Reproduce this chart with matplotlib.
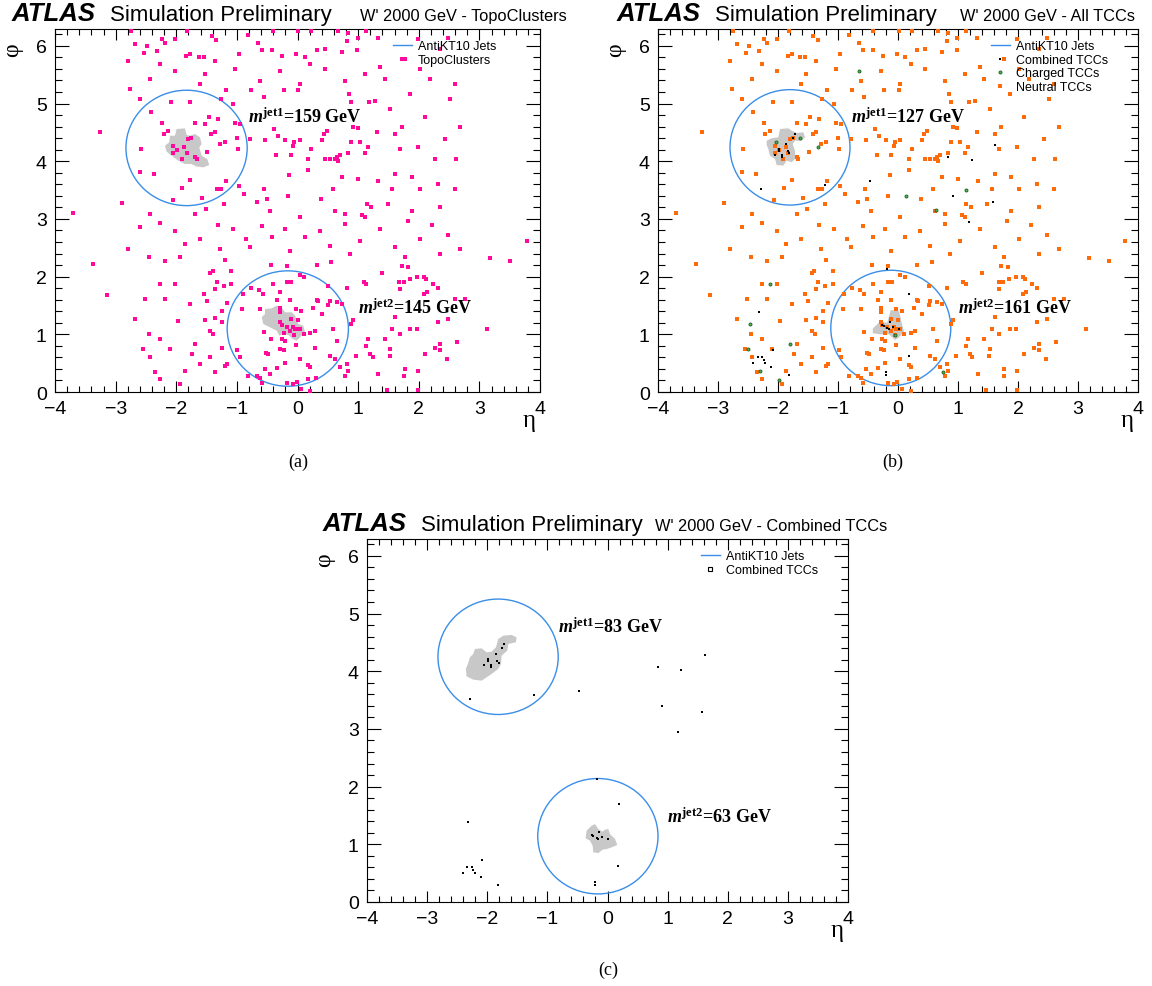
import numpy as np
import matplotlib
matplotlib.use("Agg")
import matplotlib.pyplot as plt
from matplotlib.patches import Ellipse, Polygon
from matplotlib.lines import Line2D
from matplotlib.ticker import MultipleLocator

plt.rcParams["font.family"] = ["Liberation Sans", "DejaVu Sans"]
plt.rcParams["mathtext.fontset"] = "custom"
plt.rcParams["mathtext.rm"] = "Liberation Serif:bold"
plt.rcParams["mathtext.it"] = "Liberation Serif:italic:bold"
plt.rcParams["mathtext.bf"] = "Liberation Serif:bold"

# ---------------- data (eta, phi) ----------------
# topoclusters (panel a), also used as neutral TCCs in panel b
topo = [
    # top band
    (-2.75, 6.25), (-2.54, 5.87), (-2.48, 6.00), (-2.32, 5.91), (-2.24, 6.12), (-2.18, 6.05),
    (-1.82, 6.25), (-1.84, 5.82), (-1.63, 5.81), (-1.55, 5.81), (-1.41, 6.17), (-1.34, 6.10),
    (-0.96, 5.86), (-0.81, 6.18), (-0.65, 6.04), (-0.58, 5.93), (-0.42, 5.92), (-0.41, 6.25),
    (-0.25, 5.82), (-0.02, 5.86), (0.01, 6.25), (0.12, 5.81), (0.23, 6.25), (0.32, 5.92),
    (0.45, 5.95), (0.67, 6.25), (0.74, 5.90), (0.82, 6.09), (0.84, 6.22), (0.98, 5.92),
    (0.99, 6.14), (1.13, 6.25), (1.32, 6.14), (1.99, 6.12), (2.48, 6.14),
    (-2.43, 5.42), (-2.02, 5.56), (-1.61, 5.34), (-1.03, 5.60), (-0.62, 5.39), (-0.29, 5.56),
    (0.04, 5.34), (0.45, 5.60), (0.78, 5.39), (1.11, 5.51), (1.36, 5.63), (-2.27, 5.68),
    (-1.36, 5.74), (0.21, 5.68),
    (-2.68, 6.03), (-2.02, 6.12), (-1.77, 5.86), (-2.80, 5.74), (-1.53, 5.51),
    # right upper
    (1.53, 4.90), (1.72, 4.59), (1.99, 4.25), (2.27, 4.04), (2.52, 5.08), (2.68, 4.59),
    (1.61, 3.78), (2.02, 3.52), (2.60, 3.52), (1.86, 5.16), (2.19, 5.42), (1.44, 5.42),
    (2.02, 5.60), (2.43, 4.38), (1.69, 4.21), (2.10, 4.77), (1.89, 3.73), (1.56, 3.52),
    (2.32, 3.60), (2.61, 4.04), (1.77, 5.77), (2.35, 5.94), (2.60, 5.34), (1.61, 4.47),
    # around jet 1
    (-2.90, 3.27), (-2.58, 4.22), (-2.60, 3.82), (-2.41, 4.86), (-2.37, 3.77), (-2.24, 4.66),
    (-2.21, 4.48), (-2.09, 5.02), (-2.06, 3.32), (-1.90, 3.53), (-1.77, 5.03), (-1.77, 3.68),
    (-1.69, 4.66), (-1.58, 3.36), (-1.53, 4.64), (-1.51, 3.17), (-1.49, 4.16), (-1.46, 4.76),
    (-1.42, 4.47), (-1.36, 4.51), (-1.33, 3.51), (-1.31, 4.74), (-1.28, 4.30), (-1.26, 3.51),
    (-1.26, 5.07), (-1.20, 4.33), (-1.18, 3.66), (-1.22, 3.26), (-1.18, 5.24), (-1.06, 5.00),
    (-1.03, 4.67), (-1.00, 4.41), (-0.96, 3.57), (-0.98, 4.22), (-0.95, 4.64), (-0.89, 3.43),
    (-0.78, 4.38), (-0.76, 5.24), (-0.66, 3.29), (-0.56, 5.12), (-0.55, 3.52), (-0.54, 4.36),
    (-0.51, 3.34), (-0.38, 4.56), (-0.35, 4.10), (-0.32, 4.44), (-0.23, 5.24), (-0.20, 4.36),
    (-0.16, 3.40), (-0.14, 3.76), (-0.11, 4.11), (-0.07, 4.27), (-0.05, 4.33), (0.01, 5.24),
    (0.04, 4.36), (0.18, 4.04), (0.18, 3.84), (0.23, 4.21), (0.39, 3.34), (0.40, 4.36),
    (0.43, 4.47), (0.45, 4.04), (0.49, 4.53), (0.54, 4.04), (0.59, 3.52), (0.62, 4.04),
    (0.65, 4.07), (0.67, 4.01), (0.70, 4.10), (0.73, 3.72), (0.78, 3.08), (0.84, 4.15),
    (0.85, 5.16), (0.88, 4.33), (0.89, 5.02), (0.92, 4.59), (0.99, 4.57), (1.00, 3.69),
    (1.03, 4.34), (1.06, 3.06), (1.11, 4.15), (1.14, 3.26), (1.16, 4.24), (1.18, 5.02),
    (1.22, 3.20), (1.28, 5.05), (1.31, 4.50), (1.33, 3.66),
    # jet 1 core
    (-2.13, 4.53), (-2.05, 4.26), (-1.98, 4.19), (-1.91, 4.04), (-1.87, 4.24), (-1.83, 4.15),
    (-1.80, 4.38), (-1.75, 4.41), (-1.69, 4.07), (-1.66, 4.04), (-2.05, 4.15),
    # around jet 2
    (-1.20, 2.29), (-1.44, 2.07), (-1.40, 2.10), (-1.09, 2.10), (-1.33, 1.90), (-1.22, 1.84),
    (-1.09, 1.87), (-1.55, 1.70), (-1.36, 1.79), (-1.50, 1.58), (-1.17, 1.55), (-1.25, 1.41),
    (-1.53, 1.24), (-1.36, 1.29), (-1.25, 1.22), (-1.44, 1.06), (-1.39, 1.00), (-1.25, 0.77),
    (-1.44, 0.60), (-1.17, 0.49), (-1.20, 0.45), (-1.36, 0.34),
    (-0.43, 2.20), (-0.17, 2.19), (0.32, 2.20), (0.56, 2.26), (0.04, 2.02), (0.11, 2.00),
    (-0.41, 1.87), (-0.17, 1.90), (-0.10, 1.90), (-0.76, 1.80), (-0.63, 1.77), (-0.57, 1.70),
    (-0.90, 1.70), (-0.29, 1.73), (-0.12, 1.60), (-0.34, 1.60), (0.32, 1.60), (0.34, 1.58),
    (0.51, 1.84), (0.81, 1.80), (0.54, 1.58), (0.51, 1.50), (0.65, 1.56), (0.73, 1.52),
    (-0.92, 1.44), (-0.62, 1.43), (-0.29, 1.45), (-0.03, 1.44), (0.06, 1.41), (0.26, 1.45),
    (0.40, 1.35), (0.91, 1.24), (0.89, 1.18), (0.59, 1.09), (0.29, 1.06), (0.21, 1.02),
    (0.65, 0.89), (-0.56, 1.04), (-0.43, 0.92), (-0.26, 0.92), (-0.21, 0.89), (-0.29, 0.75),
    (-0.23, 0.72), (-0.03, 0.81), (-0.52, 0.68), (-0.48, 0.66), (-0.99, 0.72), (-0.95, 0.60),
    (0.54, 0.63), (0.62, 0.58), (0.29, 0.77), (0.04, 0.57), (-0.21, 0.50), (-0.34, 0.41),
    (-0.54, 0.40), (-0.45, 0.31), (0.18, 0.47), (0.21, 0.43), (0.31, 0.25), (0.18, 0.23),
    (-0.67, 0.27), (-0.62, 0.24), (-0.81, 0.28), (-0.59, 0.16), (-0.17, 0.16), (-0.07, 0.14),
    (-0.01, 0.18), (0.06, 0.05), (0.21, 0.02),
    (1.09, 1.91), (1.13, 1.87), (1.40, 2.06), (1.72, 2.18), (1.83, 2.16), (1.68, 1.91),
    (1.75, 1.91), (1.85, 1.95), (1.97, 2.00), (2.08, 1.99), (2.12, 1.96), (2.13, 1.73),
    (2.08, 1.70), (2.32, 1.80), (2.32, 1.22), (1.56, 1.09), (1.69, 1.00), (1.97, 1.10),
    (1.17, 0.92), (1.13, 0.79), (1.24, 0.60), (1.20, 0.66), (1.44, 0.91), (1.53, 0.75),
    (1.52, 0.63), (1.77, 0.40), (1.76, 0.28), (2.27, 0.77), (2.35, 0.73), (2.46, 0.57),
    (2.63, 0.87), (1.99, 0.04), (1.47, 0.04), (1.33, 0.31), (0.81, 0.49), (0.84, 0.37),
    (0.70, 0.43), (0.96, 0.62), (0.78, 0.28),
    (1.61, 1.30), (1.86, 1.09), (2.10, 0.66), (2.35, 0.83), (1.99, 0.36), (2.48, 1.27),
    (1.69, 1.79), (2.60, 1.61), (2.24, 1.87),
    # jet 2 core
    (-0.29, 1.38), (-0.29, 1.21), (-0.26, 1.16), (-0.18, 1.12), (-0.12, 1.06), (-0.07, 1.12),
    (-0.04, 1.10), (0.01, 1.09), (0.04, 1.10), (0.00, 1.25), (-0.11, 1.27), (-0.22, 1.03),
    (0.10, 1.00), (-0.05, 0.98),
    # left side
    (-3.26, 4.51), (-3.70, 3.10), (-3.37, 2.22), (-3.14, 1.68), (-2.80, 2.48), (-2.60, 2.86),
    (-2.45, 2.34), (-2.45, 1.00), (-2.44, 0.61), (-2.35, 0.35), (-2.52, 1.61), (-2.27, 1.87),
    (-2.68, 1.27), (-2.76, 5.25), (-2.60, 5.08), (-2.55, 0.75), (-2.27, 0.23),
    # middle band
    (-2.27, 2.93), (-2.02, 2.79), (-1.86, 2.56), (-1.61, 2.65), (-1.31, 2.89), (-1.06, 2.82),
    (-0.85, 2.65), (-0.59, 2.88), (-0.42, 2.69), (-0.21, 2.82), (-0.12, 2.44), (0.12, 2.69),
    (0.37, 2.79), (0.54, 2.53), (0.78, 2.91), (1.03, 2.62), (1.36, 2.82), (1.61, 2.51),
    (1.82, 2.96), (2.02, 2.65), (2.22, 2.89), (2.48, 2.72), (2.68, 2.48), (-2.19, 2.27),
    (-1.94, 2.34), (-2.43, 3.08), (-1.69, 3.08), (-0.78, 2.51), (0.87, 2.39), (1.77, 2.34),
    (2.35, 2.39), (-1.28, 2.48), (-0.45, 3.14), (0.04, 3.03), (0.62, 3.14), (1.11, 3.03),
    (1.49, 3.26), (1.89, 3.14), (2.35, 3.21),
    # left below jet 2
    (-2.19, 1.61), (-1.97, 1.23), (-1.77, 1.53), (-1.69, 0.83), (-2.10, 0.75), (-1.86, 0.36),
    (-1.61, 0.49), (-2.02, 1.87), (-2.27, 0.92), (-1.94, 0.14), (-1.74, 0.66),
    # right side
    (3.13, 1.09), (3.18, 2.32), (3.51, 2.27), (3.79, 2.62), (2.76, 1.61),
]
topo_eta = [p[0] for p in topo]
topo_phi = [p[1] for p in topo]

# combined TCCs (panel b black, panel c)
comb_eta = [-1.72, -1.75, -1.86, -1.99, -1.98, -1.83, -1.81, -1.94, -1.93, -2.05,
            -2.29, -1.22, -0.47, 0.84, 1.23, 1.62, 0.91, 1.58, 1.18,
            -0.18, 0.19, -2.32, -2.08, -2.34, -2.26, -2.23, -2.21, -2.41, -2.11, -1.82,
            0.18, -0.20, -0.20,
            -0.26, -0.24, -0.14, -0.18, -0.15, -0.09, 0.01]
comb_phi = [4.47, 4.41, 4.29, 4.22, 4.18, 4.18, 4.15, 4.10, 4.07, 4.10,
            3.52, 3.59, 3.65, 4.07, 4.02, 4.28, 3.39, 3.29, 2.95,
            2.14, 1.70, 1.38, 0.73, 0.61, 0.60, 0.56, 0.51, 0.51, 0.43, 0.30,
            0.63, 0.34, 0.30,
            1.16, 1.15, 1.22, 1.11, 1.09, 1.12, 1.09]

# charged TCCs (panel b, green)
chg_eta = [-2.03, -1.63, -1.33, -0.65, 0.14, 0.63, 1.13, -2.47, -2.50, -2.30, -1.98, -1.80, -2.13, -0.05, 0.75]
chg_phi = [4.33, 4.40, 4.25, 5.56, 3.40, 3.16, 3.50, 1.18, 0.75, 0.36, 0.21, 0.83, 1.87, 0.98, 0.35]

# jet axes and masses
jets_a = [(-1.83, 4.23), (-0.16, 1.10)]
jets_b = [(-1.80, 4.24), (-0.12, 1.11)]
jets_c = [(-1.82, 4.25), (-0.16, 1.14)]
mass_a = [159, 145]
mass_b = [127, 161]
mass_c = [83, 63]
jet_R = 1.0

# jet catchment areas (gray)
area_a1 = [(-2.104, 4.442), (-2.021, 4.442), (-1.994, 4.558), (-1.856, 4.569), (-1.829, 4.454),
           (-1.774, 4.442), (-1.691, 4.471), (-1.609, 4.413), (-1.581, 4.298), (-1.620, 4.240),
           (-1.581, 4.096), (-1.488, 4.038), (-1.455, 3.934), (-1.554, 3.893), (-1.675, 3.911),
           (-1.746, 3.951), (-1.856, 3.951), (-1.967, 4.009), (-2.076, 4.096), (-2.159, 4.165),
           (-2.186, 4.269), (-2.115, 4.327)]
area_a2 = [(-0.536, 1.438), (-0.426, 1.450), (-0.344, 1.496), (-0.261, 1.467), (-0.206, 1.381),
           (-0.096, 1.381), (-0.041, 1.323), (0.014, 1.178), (0.096, 1.150), (0.124, 1.034),
           (0.041, 0.947), (-0.014, 0.890), (-0.080, 0.919), (-0.151, 0.988), (-0.234, 1.005),
           (-0.300, 0.976), (-0.344, 1.063), (-0.454, 1.121), (-0.564, 1.178), (-0.591, 1.294),
           (-0.536, 1.352)]
area_b1 = [(-2.189, 4.356), (-2.106, 4.397), (-1.995, 4.414), (-1.967, 4.558), (-1.828, 4.570),
           (-1.772, 4.530), (-1.689, 4.489), (-1.578, 4.501), (-1.550, 4.414), (-1.606, 4.356),
           (-1.717, 4.356), (-1.756, 4.298), (-1.717, 4.183), (-1.717, 4.038), (-1.772, 3.981),
           (-1.856, 4.010), (-1.911, 3.923), (-2.022, 3.934), (-2.050, 4.038), (-2.134, 4.096),
           (-2.161, 4.212), (-2.189, 4.281)]
area_b2 = [(-0.42, 1.10), (-0.30, 1.22), (-0.18, 1.20), (-0.12, 1.42), (0.02, 1.40), (0.06, 1.20),
           (0.10, 1.05), (0.02, 0.95), (-0.05, 0.90), (-0.15, 1.00), (-0.30, 1.00), (-0.42, 1.02)]
area_c1 = [(-2.205, 4.385), (-2.094, 4.397), (-2.011, 4.327), (-1.928, 4.339), (-1.855, 4.414),
           (-1.817, 4.558), (-1.733, 4.616), (-1.595, 4.628), (-1.512, 4.587), (-1.523, 4.501),
           (-1.650, 4.472), (-1.667, 4.356), (-1.761, 4.270), (-1.772, 4.125), (-1.817, 4.039),
           (-1.928, 3.952), (-2.011, 3.894), (-2.094, 3.836), (-2.233, 3.854), (-2.344, 3.911),
           (-2.355, 4.039), (-2.316, 4.142), (-2.288, 4.241), (-2.233, 4.298)]
area_c2 = [(-0.347, 1.236), (-0.264, 1.323), (-0.208, 1.351), (-0.153, 1.265), (-0.081, 1.219),
           (-0.042, 1.253), (0.014, 1.265), (0.041, 1.178), (0.125, 1.092), (0.163, 0.988),
           (0.069, 0.947), (-0.014, 0.918), (-0.081, 0.907), (-0.153, 0.849), (-0.236, 0.860),
           (-0.247, 0.976), (-0.291, 1.063), (-0.364, 1.103)]

W, H = 1152, 987
PHI_PX = 57.7
JET_COLOR = "#3a8ee8"
PINK = "#ff0a9c"
ORANGE = "#ff6a0a"
GRAY = "#c8c8c8"
DOT = 2.2       # coloured cluster markers
BLACK_DOT = 2.0

fig = plt.figure(figsize=(W / 100, H / 100), dpi=100)


def make_panel(left, right, bottom, title_x, sub_x, subtitle, caption_xy, caption):
    top = bottom - 2 * np.pi * PHI_PX
    wpx = right - left
    hpx = bottom - top
    ax = fig.add_axes([left / W, 1 - bottom / H, wpx / W, hpx / H])
    ax.set_xlim(-4, 4)
    ax.set_ylim(0, 2 * np.pi)
    ax.xaxis.set_major_locator(MultipleLocator(1))
    ax.xaxis.set_minor_locator(MultipleLocator(0.2))
    ax.yaxis.set_major_locator(MultipleLocator(1))
    ax.yaxis.set_minor_locator(MultipleLocator(0.2))
    ax.tick_params(which="both", direction="in", top=True, right=True, width=0.8, labelsize=14)
    ax.tick_params(axis="x", which="major", length=8, pad=6)
    ax.tick_params(axis="x", which="minor", length=4)
    ax.tick_params(axis="y", which="major", length=10, pad=6)
    ax.tick_params(axis="y", which="minor", length=5)
    for s in ax.spines.values():
        s.set_linewidth(0.8)
    # axis titles, ROOT style at the corners
    ax.text(-42 / wpx, 1 - 20 / hpx, "φ", transform=ax.transAxes, rotation=90,
            ha="center", va="center", fontsize=17, family="Liberation Serif")
    ax.text(1 - 11 / wpx, -28 / hpx, "η", transform=ax.transAxes, ha="center", va="center",
            fontsize=18, family="Liberation Serif")
    ty = 1 - (top - 9) / H
    fig.text(title_x / W, ty, "ATLAS", fontsize=18.5, fontweight="bold", fontstyle="italic",
             va="baseline")
    fig.text((title_x + 98) / W, ty, "Simulation Preliminary", fontsize=16, va="baseline")
    fig.text(sub_x / W, ty, subtitle, fontsize=11.8, va="baseline")
    fig.text(caption_xy[0] / W, 1 - caption_xy[1] / H, caption, fontsize=13,
             family="Liberation Serif", ha="center", va="center")
    return ax


def draw_jets(ax, jets, masses, areas, text_pos):
    for poly in areas:
        ax.add_patch(Polygon(poly, closed=True, facecolor=GRAY, edgecolor="none", zorder=1))
    for (eta, phi) in jets:
        ax.add_patch(Ellipse((eta, phi), 2 * jet_R, 2 * jet_R, fill=False,
                             edgecolor=JET_COLOR, lw=1.0, zorder=3))
    for i, (m, (tx, ty)) in enumerate(zip(masses, text_pos)):
        ax.text(tx, ty, r"$m^{\mathrm{jet%d}}$=%d GeV" % (i + 1, m), fontsize=13,
                family="Liberation Serif", fontweight="bold", ha="left", va="center", zorder=5)


def add_legend(ax, handles, labels, wpx, hpx):
    ax.legend(handles, labels, loc="upper left",
              bbox_to_anchor=(1 - 147 / wpx, 1 - 11 / hpx), frameon=False,
              fontsize=9, borderpad=0, borderaxespad=0, handlelength=1.5,
              handletextpad=0.5, labelspacing=0.12)


jet_handle = Line2D([], [], color=JET_COLOR, lw=1.0)

# (a) TopoClusters
ax_a = make_panel(55, 540, 393, 12, 360, "W' 2000 GeV - TopoClusters", (298, 462), "(a)")
draw_jets(ax_a, jets_a, mass_a, [area_a1, area_a2], [(-0.82, 4.78), (1.00, 1.47)])
ax_a.plot(topo_eta, topo_phi, ls="none", marker="s", ms=DOT, mew=0, color=PINK, zorder=4)
add_legend(ax_a, [jet_handle, Line2D([], [], ls="none", marker="s", ms=DOT, mew=0, color=PINK)],
           ["AntiKT10 Jets", "TopoClusters"], 485, 362.5)

# (b) All TCCs
ax_b = make_panel(658, 1138, 393, 617, 960, "W' 2000 GeV - All TCCs", (893, 462), "(b)")
draw_jets(ax_b, jets_b, mass_b, [area_b1, area_b2], [(-0.78, 4.78), (1.00, 1.47)])
ax_b.plot(topo_eta, topo_phi, ls="none", marker="s", ms=DOT, mew=0, color=ORANGE, zorder=4)
ax_b.plot(chg_eta, chg_phi, ls="none", marker="o", ms=2.2, mew=0.6, mfc="#4caf50",
          mec="#1f5f1f", zorder=4)
ax_b.plot(comb_eta, comb_phi, ls="none", marker="s", ms=BLACK_DOT, mew=0, color="black", zorder=4)
add_legend(ax_b, [jet_handle,
                  Line2D([], [], ls="none", marker="s", ms=BLACK_DOT, mew=0, color="black"),
                  Line2D([], [], ls="none", marker="o", ms=2.2, mew=0.6, mfc="#4caf50", mec="#1f5f1f"),
                  Line2D([], [], ls="none", marker="s", ms=DOT, mew=0, color=ORANGE)],
           ["AntiKT10 Jets", "Combined TCCs", "Charged TCCs", "Neutral TCCs"], 480, 362.5)

# (c) Combined TCCs
ax_c = make_panel(367, 848, 903, 323, 655, "W' 2000 GeV - Combined TCCs", (608, 970), "(c)")
draw_jets(ax_c, jets_c, mass_c, [area_c1, area_c2], [(-0.82, 4.77), (0.99, 1.49)])
ax_c.plot(comb_eta, comb_phi, ls="none", marker="s", ms=BLACK_DOT, mew=0, color="black", zorder=4)
add_legend(ax_c, [jet_handle, Line2D([], [], ls="none", marker="s", ms=2.4, mew=0.8,
                                     mfc="white", mec="black")],
           ["AntiKT10 Jets", "Combined TCCs"], 481, 362.5)

fig.savefig("out.png", dpi=100)
